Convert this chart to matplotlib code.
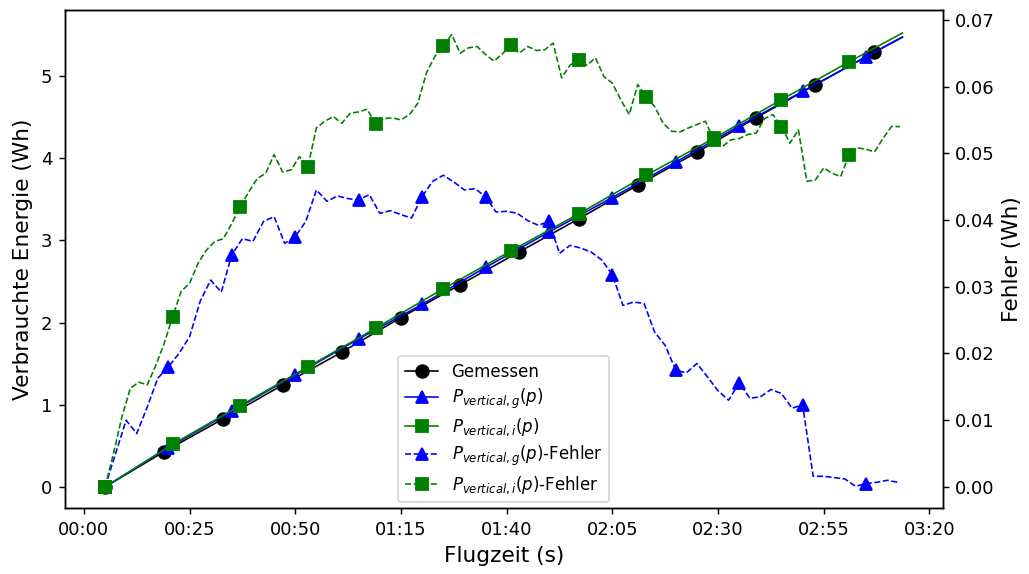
import numpy as np
import matplotlib
matplotlib.use("Agg")
import matplotlib.pyplot as plt
from matplotlib.ticker import FuncFormatter, MultipleLocator

# verbrauchte Energie (Wh), an den Markerzeitpunkten + Endpunkt
t_mess = [5, 19, 33, 47, 61, 75, 89, 103, 117, 131, 145, 159, 173, 187, 193.6]
e_mess = [0.0, 0.43, 0.83, 1.24, 1.64, 2.06, 2.46, 2.86, 3.26, 3.67, 4.07, 4.49, 4.89, 5.29, 5.47]

t_vg = [5, 20, 35, 50, 65, 80, 95, 110, 125, 140, 155, 170, 185, 193.6]
e_vg = [0.0, 0.48, 0.92, 1.36, 1.80, 2.22, 2.67, 3.10, 3.52, 3.95, 4.39, 4.81, 5.23, 5.47]

t_vi = [5, 21, 37, 53, 69, 85, 101, 117, 133, 149, 165, 181, 193.6]
e_vi = [0.0, 0.52, 0.99, 1.46, 1.93, 2.41, 2.87, 3.32, 3.79, 4.24, 4.71, 5.17, 5.52]

# Fehler (Wh)
err_g = [0.0, 0.005, 0.010, 0.008, 0.012, 0.0163, 0.018, 0.020, 0.0225, 0.0278,
         0.031, 0.0292, 0.0348, 0.0372, 0.0368, 0.0398, 0.0405, 0.0365, 0.0375, 0.0398,
         0.0445, 0.0428, 0.0436, 0.0432, 0.043, 0.0438, 0.041, 0.0414, 0.0408, 0.0403,
         0.0435, 0.0458, 0.0467, 0.0457, 0.0445, 0.0447, 0.0435, 0.0412, 0.0413, 0.041,
         0.0399, 0.0392, 0.0398, 0.035, 0.0362, 0.0358, 0.0352, 0.034, 0.0318, 0.0272,
         0.0277, 0.0275, 0.0232, 0.0212, 0.0175, 0.0171, 0.0185, 0.0165, 0.0144, 0.013,
         0.0156, 0.0133, 0.0135, 0.0146, 0.014, 0.0118, 0.0123, 0.0016, 0.0016, 0.0014,
         0.0012, 0.0001, 0.0005, 0.0007, 0.001, 0.0007]
t_err_g = 5 + 2.5 * np.arange(len(err_g))

err_i = [0.0, 0.005, 0.0105, 0.0148, 0.0157, 0.0153, 0.0182, 0.0215, 0.0255, 0.0293,
         0.0305, 0.0335, 0.0355, 0.0368, 0.0372, 0.0395, 0.042, 0.0442, 0.0462, 0.047,
         0.0498, 0.0472, 0.0475, 0.0495, 0.048, 0.0538, 0.0548, 0.0555, 0.0545, 0.056,
         0.0562, 0.0566, 0.0544, 0.0552, 0.0553, 0.055, 0.0558, 0.0575, 0.062, 0.0645,
         0.066, 0.0678, 0.065, 0.0658, 0.066, 0.0648, 0.0638, 0.0649, 0.0662, 0.065,
         0.066, 0.0654, 0.0655, 0.0665, 0.0613, 0.0632, 0.064, 0.0632, 0.0643, 0.0615,
         0.0605, 0.058, 0.0558, 0.0603, 0.0585, 0.057, 0.0545, 0.0533, 0.0532, 0.0538,
         0.0543, 0.0548, 0.052, 0.051, 0.052, 0.0522, 0.0528, 0.053, 0.0552, 0.0558,
         0.054, 0.0515, 0.0535, 0.0458, 0.046, 0.0478, 0.047, 0.0465, 0.0498, 0.0508,
         0.0506, 0.0502, 0.0522, 0.054, 0.054]
t_err_i = 5 + 2.0 * np.arange(len(err_i))


def mmss(x, pos):
    return "%02d:%02d" % (int(x // 60), int(x % 60))


fig = plt.figure(figsize=(1029 / 130, 574 / 130), dpi=130)
ax1 = fig.add_subplot(111)
fig.subplots_adjust(left=0.063, right=0.916, bottom=0.115, top=0.983)
ax2 = ax1.twinx()

ms = 7
l1, = ax1.plot(t_mess, e_mess, 'k-', marker='o', ms=ms, lw=0.9, markevery=list(range(len(t_mess) - 1)), label='Gemessen')
l2, = ax1.plot(t_vg, e_vg, 'b-', marker='^', ms=ms, lw=0.9, markevery=list(range(len(t_vg) - 1)), label=r'$P_{vertical,g}(p)$')
l3, = ax1.plot(t_vi, e_vi, 'g-', marker='s', ms=ms, lw=0.9, markevery=list(range(len(t_vi) - 1)), label=r'$P_{vertical,i}(p)$')

l4, = ax2.plot(t_err_g, err_g, 'b--', marker='^', ms=ms, lw=0.9, markevery=6, label=r'$P_{vertical,g}(p)$-Fehler')
l5, = ax2.plot(t_err_i, err_i, 'g--', marker='s', ms=ms, lw=0.9, markevery=8, label=r'$P_{vertical,i}(p)$-Fehler')

ax1.set_xlim(-4.5, 203.1)
ax1.set_ylim(-0.2555, 5.803)
ax2.set_ylim(-0.00315, 0.0715)
ax1.xaxis.set_major_locator(MultipleLocator(25))
ax1.xaxis.set_major_formatter(FuncFormatter(mmss))
ax2.yaxis.set_major_locator(MultipleLocator(0.01))
ax2.yaxis.set_major_formatter(FuncFormatter(lambda v, p: "%.2f" % v))

ax1.set_xlabel("Flugzeit (s)", fontsize=12)
ax1.set_ylabel("Verbrauchte Energie (Wh)", fontsize=12)
ax2.set_ylabel("Fehler (Wh)", fontsize=12)
ax1.tick_params(labelsize=10)
ax2.tick_params(labelsize=10)

ax2.legend(handles=[l1, l2, l3, l4, l5], loc='lower center', fontsize=9.2,
           labelspacing=0.35, borderaxespad=0.35)

fig.savefig("out.png", dpi=130)
